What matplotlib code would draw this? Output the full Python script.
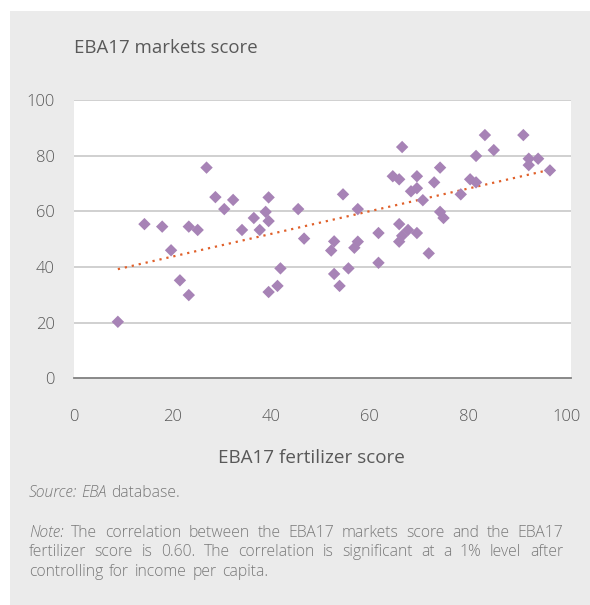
import numpy as np
import matplotlib
matplotlib.use("Agg")
import matplotlib.pyplot as plt
from matplotlib.patches import Rectangle

# ---------------- data ----------------
fertilizer_score = [8.9, 14.3, 17.9, 19.7, 21.5, 23.3, 23.3, 25.1, 26.9, 28.7,
                    30.5, 32.3, 34.1, 36.5, 37.7, 38.9, 39.5, 39.5, 41.9, 41.3,
                    39.5, 45.5, 46.7, 52.8, 52.2, 52.8, 53.9, 54.6, 55.7, 57.6,
                    57.6, 56.9, 61.8, 61.8, 66.6, 64.7, 66.0, 69.6, 68.4, 69.6,
                    70.8, 73.1, 74.3, 66.0, 67.8, 66.6, 66.0, 69.6, 72.0, 74.3,
                    75.0, 78.5, 80.4, 81.6, 81.6, 83.4, 85.2, 91.2, 92.3, 92.3,
                    94.2, 96.6]
markets_score = [20.3, 55.4, 54.5, 46.0, 35.2, 54.5, 29.9, 53.3, 75.7, 65.1,
                 60.8, 64.1, 53.3, 57.6, 53.3, 59.8, 65.0, 56.5, 39.5, 33.2,
                 31.0, 60.8, 50.2, 49.2, 45.9, 37.5, 33.2, 66.1, 39.5, 60.8,
                 49.1, 46.9, 52.2, 41.5, 83.1, 72.6, 71.5, 72.6, 67.2, 68.3,
                 64.0, 70.4, 75.7, 55.4, 53.3, 51.2, 49.1, 52.2, 44.9, 59.8,
                 57.6, 66.1, 71.5, 70.4, 79.9, 87.4, 82.0, 87.4, 78.9, 76.6,
                 78.9, 74.7]
x_ticks = [0, 20, 40, 60, 80, 100]
y_ticks = [0, 20, 40, 60, 80, 100]

title_text = "EBA17 markets score"
xlabel_text = "EBA17 fertilizer score"
source_words = [("Source:", "italic"), ("EBA", "italic"), ("database.", "normal")]
note_lines = [
    [("Note:", "italic")] + [(w, "normal") for w in "The correlation between the EBA17 markets score and the EBA17".split()],
    [(w, "normal") for w in "fertilizer score is 0.60. The correlation is significant at a 1% level after".split()],
    [(w, "normal") for w in "controlling for income per capita.".split()],
]

# ---------------- figure ----------------
W, H = 590, 605
fig = plt.figure(figsize=(W / 100, H / 100), dpi=100)
fig.patch.set_facecolor("white")
FONT = ["Open Sans", "DejaVu Sans"]
TXT = "#595959"
NOTE = "#787878"

def fx(px):
    return px / W

def fy(py):
    return 1 - py / H

# grey panel
fig.patches.append(Rectangle((fx(10), -0.01), 1.01 - fx(10), fy(11) + 0.01, transform=fig.transFigure,
                             facecolor="#ebebeb", edgecolor="none", zorder=-5))

ax = fig.add_axes([fx(74), fy(378.3), fx(571) - fx(74), fy(100) - fy(378.3)])
ax.set_zorder(2)
ax.set_facecolor("white")
ax.set_xlim(0, (571 - 74) / 4.927)
ax.set_ylim(0, 100)
ax.set_xticks(x_ticks)
ax.set_yticks(y_ticks)
ax.set_xticklabels([str(t) for t in x_ticks])
ax.set_yticklabels([str(t) for t in y_ticks])
for s in ["top", "right", "left"]:
    ax.spines[s].set_visible(False)
ax.spines["bottom"].set_color("#808080")
ax.spines["bottom"].set_linewidth(1.3)
ax.tick_params(axis="both", length=0, labelsize=12, labelcolor=TXT)
ax.tick_params(axis="x", pad=22)
ax.tick_params(axis="y", pad=14)
for lab in ax.get_xticklabels() + ax.get_yticklabels():
    lab.set_fontfamily(FONT)
    lab.set_fontweight("light")
for t in y_ticks[1:]:
    ax.axhline(t, color="#c4c4c4", linewidth=1.1, zorder=1)

ax.scatter(fertilizer_score, markets_score, marker="D", s=40, color="#a783b6",
           edgecolors="none", zorder=3)

# linear trend line computed from the data
coef = np.polyfit(fertilizer_score, markets_score, 1)
xs = np.array([min(fertilizer_score), max(fertilizer_score)])
ax.plot(xs, np.polyval(coef, xs), color="#e0602a", linewidth=1.6,
        linestyle=(0, (1, 2.2)), zorder=2)

# titles
fig.text(fx(74), fy(48), title_text, ha="left", va="center", fontsize=13.4,
         color=TXT, family=FONT)
fig.text(fx(311), fy(458), xlabel_text, ha="center", va="center", fontsize=13.6,
         color=TXT, family=FONT)

# justified notes
renderer = fig.canvas.get_renderer()
NOTE_SIZE = 11.3

def draw_words(words, ypx, x0, x1, justify, size=NOTE_SIZE, extra=1.6):
    objs = []
    widths = []
    for w, style in words:
        t = fig.text(0, fy(ypx), w, ha="left", va="center", fontsize=size,
                     color=NOTE, family=FONT, style=style, fontweight="light")
        objs.append(t)
        widths.append(t.get_window_extent(renderer).width)
    if justify and len(words) > 1:
        gap = (x1 - x0 - sum(widths)) / (len(words) - 1)
    else:
        a = fig.text(0, 0, "a a", fontsize=size, family=FONT, fontweight="light")
        b = fig.text(0, 0, "aa", fontsize=size, family=FONT, fontweight="light")
        gap = a.get_window_extent(renderer).width - b.get_window_extent(renderer).width + extra
        a.remove(); b.remove()
    x = x0
    for t, wd in zip(objs, widths):
        t.set_x(fx(x))
        x += wd + gap

draw_words(source_words, 493, 29, 563, False, extra=0)
draw_words(note_lines[0], 533, 29, 563, True)
draw_words(note_lines[1], 552.5, 29, 563, True)
draw_words(note_lines[2], 572, 29, 563, False)

fig.savefig("out.png", dpi=100, facecolor=fig.get_facecolor())
